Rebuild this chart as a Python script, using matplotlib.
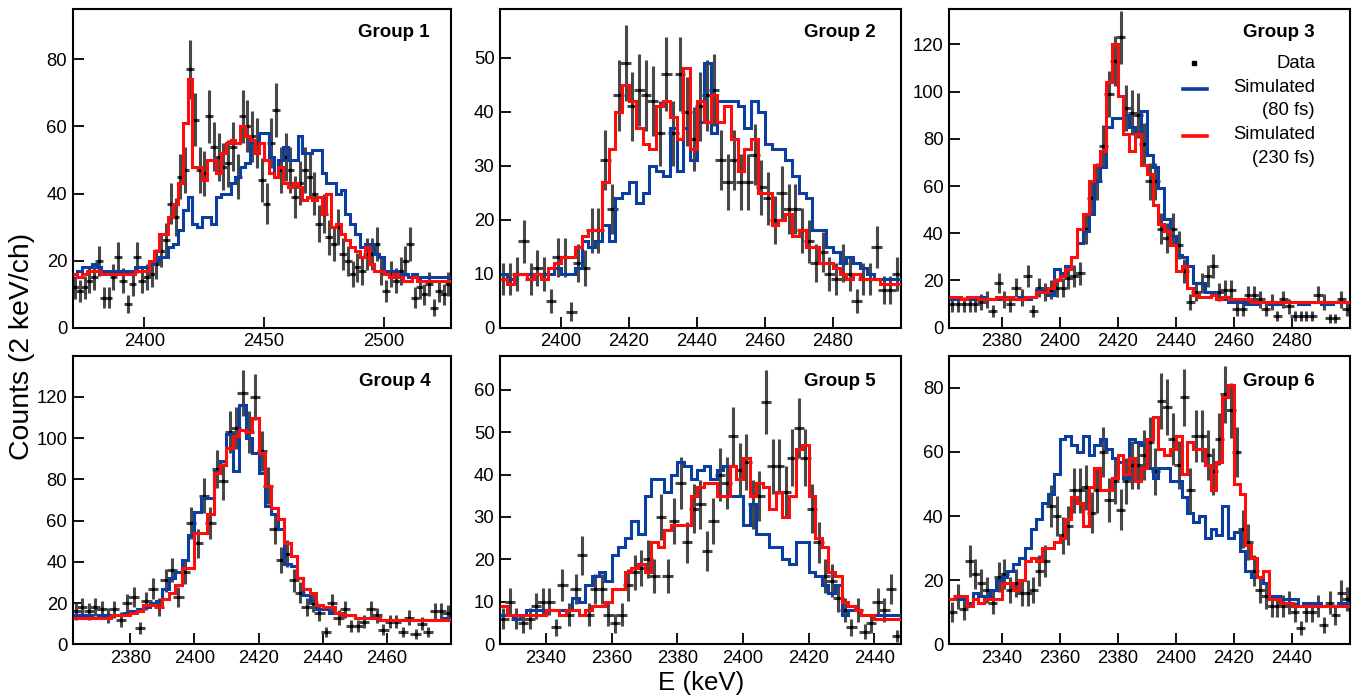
import numpy as np
import matplotlib.pyplot as plt

plt.rcParams['font.family'] = ['Liberation Sans', 'DejaVu Sans']

# counts per 2 keV channel
# Group 1 (first channel starts at 2370 keV)
g1_start = 2370
g1_data = [12, 11, 12, 14, 15, 20, 9, 9, 15, 21,
           14, 7, 13, 21, 14, 15, 16, 19, 23, 26,
           37, 33, 45, 47, 77, 62, 47, 46, 63, 54,
           51, 48, 49, 54, 45, 63, 60, 57, 55, 44,
           37, 55, 65, 47, 51, 47, 39, 43, 47, 45,
           40, 31, 34, 27, 25, 30, 22, 20, 16, 18,
           17, 22, 22, 25, 17, 11, 16, 14, 17, 20,
           25, 9, 12, 10, 13, 6, 11, 10, 13]
g1_sim80 = [16, 17, 18, 18, 19, 18, 17, 17, 17, 17, 17, 17, 17, 18, 18, 18,
            19, 20, 21, 21, 24, 25, 29, 35, 39, 31, 30, 33, 33, 31, 39,
            40, 40, 43, 45, 48, 49, 55, 56, 58, 58, 51, 45, 50, 54, 50, 50, 57, 52, 52,
            53, 53, 46, 43, 43, 40, 41, 34, 31, 28, 24, 25, 25, 22, 21, 17, 17, 17, 16, 16,
            15, 16, 15, 15, 15, 15, 15, 15, 15]
g1_sim230 = [16, 15, 16, 17, 17, 17, 16, 16, 16, 16, 16, 16, 16, 17, 17, 17,
             20, 23, 28, 28, 33, 37, 43, 61, 74,
             48, 48, 44, 50, 50, 46, 52, 55, 56, 55, 60, 57, 56, 52, 55, 50, 46, 45, 48, 43,
             42, 43, 42, 38, 39, 38, 39, 34, 40, 30, 31, 28, 26, 24, 23, 21, 24, 19, 17, 17,
             16, 15, 16, 15, 14, 14, 15, 14, 14, 14, 14, 14, 14, 14]

# Group 2
g2_start = 2382
g2_data = [9, 9, 10, 16, 9, 11, 10, 5, 13, 13,
           3, 12, 11, 18, 18, 31, 22, 43, 49, 41,
           44, 43, 42, 36, 47, 36, 47, 40, 35, 41,
           43, 44, 31, 27, 31, 27, 27, 32, 26, 24,
           20, 25, 22, 22, 18, 16, 12, 14, 10, 9,
           12, 10, 5, 9, 9, 15, 7, 7, 10]
g2_sim80 = [10, 9, 10, 10, 10, 10, 10, 10, 11, 10,
            10, 11, 16, 15, 16, 19, 16, 24, 25, 27,
            23, 25, 30, 29, 28, 37, 29, 37, 31, 38,
            49, 36, 42, 42, 42, 41, 37, 42, 40, 34,
            33, 33, 31, 28, 25, 24, 18, 18, 15, 14,
            12, 13, 12, 11, 10, 9, 9, 9, 9]
g2_sim230 = [9, 8, 10, 10, 9, 10, 9, 11, 12, 13,
             13, 15, 17, 18, 18, 27, 33, 40, 45, 42,
             37, 34, 33, 41, 42, 39, 35, 48, 33, 42,
             38, 43, 38, 41, 35, 29, 33, 35, 25, 25,
             19, 20, 21, 17, 18, 15, 15, 12, 12, 11,
             10, 9, 10, 9, 9, 9, 8, 8, 8]

# Group 3
g3_start = 2362
g3_data = [10, 10, 10, 10, 10, 11, 12, 7, 19, 12,
           10, 17, 13, 22, 7, 17, 15, 16, 17, 17,
           21, 22, 23, 42, 55, 62, 77, 99, 113, 123,
           93, 91, 90, 78, 62, 62, 42, 38, 42, 35,
           24, 11, 15, 19, 22, 26, 15, 16, 16, 8,
           8, 14, 14, 12, 8, 11, 5, 12, 9, 5,
           5, 5, 5, 14, 11, 4, 4, 12, 8]
g3_sim80 = [12, 12, 12, 12, 12, 13, 12, 12, 12, 12, 13, 12, 13, 12,
            13, 16, 15, 14, 25, 23, 26, 30, 36, 41, 48, 62, 68, 85, 89, 89,
            90, 85, 82, 92, 73, 68, 59, 46, 39, 31, 30, 26, 19, 19, 15, 15, 12, 12, 11,
            11, 11, 10, 10, 11, 11, 10, 10, 11, 11, 11, 10, 10, 11, 11, 10, 10, 11, 11, 11]
g3_sim230 = [13, 13, 12, 13, 13, 12, 12, 12, 13, 12, 13, 12, 12, 13,
             13, 15, 15, 17, 20, 22, 25, 30, 42, 48, 62, 69, 75, 104, 120, 98,
             82, 75, 82, 69, 65, 52, 44, 41, 35, 24, 26, 17, 14, 13, 13, 14, 12, 13, 12,
             12, 12, 12, 11, 11, 11, 11, 11, 11, 11, 11, 11, 11, 11, 11, 11, 11, 11, 11, 11]

# Group 4
g4_start = 2362
g4_data = [16, 18, 16, 18, 17, 14, 17, 12, 20, 23,
           8, 21, 27, 18, 31, 36, 23, 35, 59, 49,
           72, 59, 85, 79, 103, 105, 122, 103, 120, 94,
           77, 56, 41, 44, 31, 25, 18, 20, 15, 6,
           20, 13, 17, 9, 9, 11, 17, 14, 7, 11,
           11, 6, 13, 5, 10, 6, 16, 16, 15]
g4_sim80 = [14, 14, 14, 13, 14, 14, 14, 14, 15, 16,
            17, 18, 20, 21, 27, 32, 35, 41, 53, 64,
            71, 71, 84, 89, 102, 84, 116, 100, 93, 83,
            67, 63, 56, 39, 38, 32, 24, 21, 17, 17,
            15, 15, 14, 14, 13, 13, 13, 13, 12, 12,
            12, 12, 12, 12, 12, 12, 12, 12, 13]
g4_sim230 = [13, 13, 13, 13, 13, 13, 14, 14, 14, 15,
             16, 19, 19, 18, 22, 25, 29, 37, 37, 54,
             54, 63, 83, 87, 95, 101, 104, 103, 110, 93,
             77, 66, 61, 49, 43, 32, 27, 25, 19, 18,
             18, 15, 14, 14, 13, 13, 13, 13, 12, 12,
             12, 12, 12, 12, 12, 12, 12, 12, 12]

# Group 5
g5_start = 2326
g5_data = [6, 10, 6, 5, 6, 9, 10, 10, 4, 14,
           7, 13, 21, 7, 13, 13, 7, 5, 7, 14,
           17, 18, 20, 16, 30, 16, 29, 38, 24, 32,
           33, 22, 29, 40, 38, 49, 41, 43, 33, 35,
           57, 42, 42, 36, 44, 51, 44, 32, 24, 16,
           15, 11, 8, 4, 8, 3, 5, 10, 8, 13, 2]
g5_sim80 = [7, 7, 6, 7, 8, 8, 8, 8, 8, 8,
            8, 11, 10, 14, 16, 17, 15, 21, 23, 25,
            29, 26, 35, 39, 39, 36, 40, 43, 42, 39,
            41, 42, 39, 41, 42, 35, 35, 28, 33, 26,
            26, 23, 23, 20, 19, 24, 24, 17, 16, 14,
            12, 14, 7, 8, 8, 7, 7, 7, 7, 7, 7]
g5_sim230 = [9, 7, 7, 7, 7, 7, 7, 8, 8, 7,
             8, 8, 7, 8, 9, 9, 10, 13, 13, 17,
             18, 19, 17, 24, 23, 27, 28, 28, 28, 35,
             37, 38, 38, 35, 35, 42, 39, 44, 35, 38,
             37, 32, 36, 30, 35, 46, 47, 35, 25, 23,
             17, 16, 10, 9, 8, 7, 7, 6, 6, 6, 6]

# Group 6
g6_start = 2322
g6_data = [10, 15, 11, 26, 22, 19, 17, 13, 21, 22,
           17, 19, 16, 16, 17, 23, 26, 43, 40, 34,
           37, 48, 48, 49, 41, 48, 60, 45, 51, 42,
           51, 56, 56, 59, 63, 54, 76, 74, 64, 56,
           77, 48, 65, 65, 59, 54, 64, 78, 73, 60,
           36, 32, 23, 17, 15, 12, 12, 12, 13, 10,
           5, 10, 10, 12, 6, 13, 9, 16, 14]
g6_sim80 = [14, 14, 14, 13, 16, 15, 15, 17, 20, 21,
            23, 25, 27, 30, 36, 39, 44, 47, 53, 64,
            65, 62, 60, 65, 59, 62, 64, 61, 58, 57,
            52, 64, 63, 62, 55, 52, 55, 55, 51, 51,
            46, 41, 38, 40, 33, 36, 34, 43, 33, 35,
            29, 23, 21, 21, 19, 15, 15, 14, 14, 14,
            12, 13, 13, 13, 12, 12, 12, 13, 13]
g6_sim230 = [14, 15, 15, 12, 14, 13, 14, 14, 14, 19,
             19, 17, 20, 26, 27, 26, 30, 30, 32, 33,
             39, 46, 44, 37, 49, 55, 48, 48, 52, 59,
             53, 58, 51, 55, 64, 71, 61, 59, 61, 65,
             53, 63, 61, 61, 56, 48, 57, 77, 81, 50,
             47, 31, 27, 21, 23, 14, 14, 13, 13, 12,
             12, 12, 12, 12, 12, 12, 12, 12, 12]

labels = ["Group 1", "Group 2", "Group 3", "Group 4", "Group 5", "Group 6"]
starts = [g1_start, g2_start, g3_start, g4_start, g5_start, g6_start]
data = [g1_data, g2_data, g3_data, g4_data, g5_data, g6_data]
sim80 = [g1_sim80, g2_sim80, g3_sim80, g4_sim80, g5_sim80, g6_sim80]
sim230 = [g1_sim230, g2_sim230, g3_sim230, g4_sim230, g5_sim230, g6_sim230]
ymax = [95, 59, 135, 140, 68, 90]
xticks = [[2400, 2450, 2500], [2400, 2420, 2440, 2460, 2480],
          [2380, 2400, 2420, 2440, 2460, 2480], [2380, 2400, 2420, 2440, 2460],
          [2340, 2360, 2380, 2400, 2420, 2440], [2340, 2360, 2380, 2400, 2420, 2440]]
ystep = [20, 10, 20, 20, 10, 20]

BLUE = '#0a3ea0'
RED = '#ff0d0d'
GREY = '#484848'

fig = plt.figure(figsize=(13.54, 6.98), dpi=100)
# axes boxes [left, bottom, width, height] in figure fraction
boxes = [[0.0537, 0.5305, 0.2792, 0.4566], [0.3693, 0.5305, 0.2959, 0.4566],
         [0.7011, 0.5305, 0.2959, 0.4566], [0.0537, 0.0769, 0.2792, 0.4135],
         [0.3693, 0.0769, 0.2959, 0.4135], [0.7011, 0.0769, 0.2959, 0.4135]]
label_x = [0.945, 0.938, 0.913, 0.947, 0.938, 0.913]
label_y = [0.925, 0.925, 0.925, 0.91, 0.91, 0.91]

axes = []
for k in range(6):
    ax = fig.add_axes(boxes[k])
    axes.append(ax)
    counts = np.array(data[k], dtype=float)
    n = len(counts)
    edges = starts[k] + 2 * np.arange(n + 1)
    centers = edges[:-1] + 1

    ax.errorbar(centers, counts, yerr=np.sqrt(counts), xerr=1.6, fmt='s', ms=1.8,
                mfc='black', mec='black', ecolor=GREY, elinewidth=2.2, capsize=0,
                zorder=2)
    ax.stairs(sim80[k], edges, baseline=None, color=BLUE, lw=2.2, zorder=3)
    ax.stairs(sim230[k], edges, baseline=None, color=RED, lw=2.2, zorder=4)

    ax.set_xlim(edges[0], edges[-1])
    ax.set_ylim(0, ymax[k])
    ax.set_xticks(xticks[k])
    ax.set_yticks(np.arange(0, ymax[k], ystep[k]))
    ax.tick_params(direction='in', length=8, width=1.3, labelsize=13.3, pad=4,
                   top=False, right=False)
    for s in ax.spines.values():
        s.set_linewidth(1.5)
    ax.text(label_x[k], label_y[k], labels[k], transform=ax.transAxes,
            ha='right', va='center', fontsize=13.5, fontweight='bold')

# legend in the Group 3 panel
ax = axes[2]
ax.plot([0.611], [0.83], 's', color='black', ms=3.5, transform=ax.transAxes)
ax.text(0.913, 0.83, "Data", transform=ax.transAxes, ha='right', va='center', fontsize=13.3)
ax.plot([0.583, 0.643], [0.749, 0.749], color=BLUE, lw=2.6, transform=ax.transAxes)
ax.text(0.913, 0.755, "Simulated", transform=ax.transAxes, ha='right', va='center', fontsize=13.3)
ax.text(0.913, 0.68, "(80 fs)", transform=ax.transAxes, ha='right', va='center', fontsize=13.3)
ax.plot([0.583, 0.643], [0.60, 0.60], color=RED, lw=2.6, transform=ax.transAxes)
ax.text(0.913, 0.605, "Simulated", transform=ax.transAxes, ha='right', va='center', fontsize=13.3)
ax.text(0.913, 0.532, "(230 fs)", transform=ax.transAxes, ha='right', va='center', fontsize=13.3)

fig.text(0.016, 0.504, "Counts (2 keV/ch)", rotation=90, ha='center', va='center', fontsize=20.4)
fig.text(0.518, 0.021, "E (keV)", ha='center', va='center', fontsize=18.6)

fig.savefig("out.png", dpi=100)
